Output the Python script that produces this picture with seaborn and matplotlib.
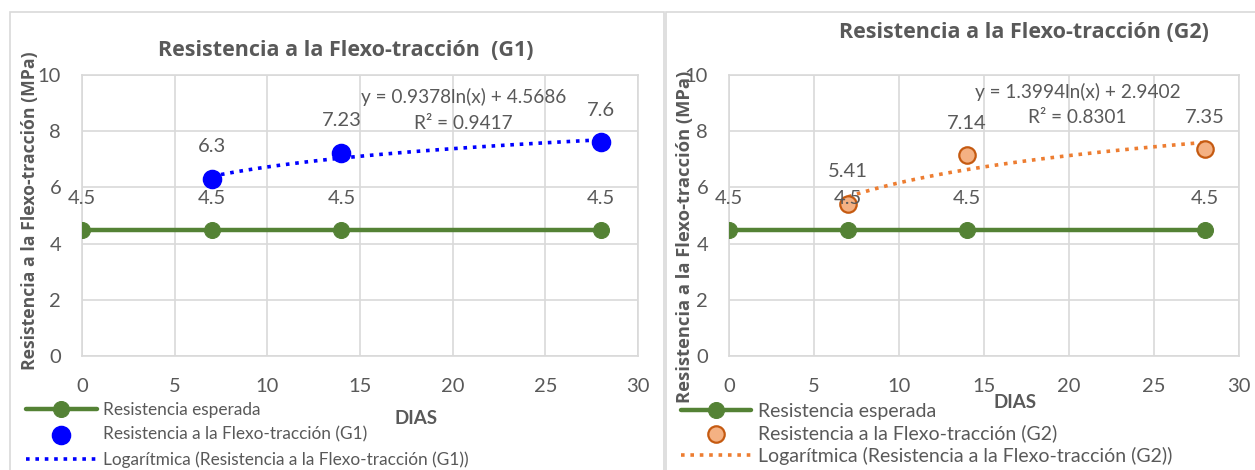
import numpy as np
import pandas as pd
import matplotlib
matplotlib.use("Agg")
import matplotlib.pyplot as plt
import seaborn as sns
from matplotlib.patches import Rectangle

sns.set_style("white")
plt.rcParams['font.family'] = ['Lato', 'DejaVu Sans']

# ---- data ----
dias_esperada = [0, 7, 14, 28]
resistencia_esperada = [4.5, 4.5, 4.5, 4.5]
dias_ensayo = [7, 14, 28]
resistencia_g1 = [6.3, 7.23, 7.6]
resistencia_g2 = [5.41, 7.14, 7.35]
titulos = ["Resistencia a la Flexo-tracción  (G1)", "Resistencia a la Flexo-tracción (G2)"]
ecuaciones = ["y = 0.9378ln(x) + 4.5686", "y = 1.3994ln(x) + 2.9402"]
r2_textos = ["R² = 0.9417", "R² = 0.8301"]
x_ticks = [0, 5, 10, 15, 20, 25, 30]
y_ticks = [0, 2, 4, 6, 8, 10]

TXT = "#595959"
GRID = "#D9D9D9"
GREEN = "#548235"

fig = plt.figure(figsize=(12.55, 4.7), dpi=100)
W, H = 1255, 470

def fx(px):
    return px / W

def fy(py):
    return 1 - py / H

# chart borders
fig.patches.append(Rectangle((fx(10), fy(480)), fx(664 - 10), (480 - 12) / H,
                             transform=fig.transFigure, fill=False, ec=GRID, lw=1.2))
fig.patches.append(Rectangle((fx(666), fy(480)), fx(700), (480 - 12) / H,
                             transform=fig.transFigure, fill=False, ec=GRID, lw=1.2))

configs = [
    dict(left=82, right=638, vals=resistencia_g1, scatter_kws=dict(color="#0000FF", edgecolor="#0000FF", s=170),
         trend_color="#0000FF", label_g="Resistencia a la Flexo-tracción (G1)",
         label_t="Logarítmica (Resistencia a la Flexo-tracción (G1))",
         title_xy=(346, 50), ylabel_xy=(30, 211), ylabel_fs=12.7, xlabel_xy=(416, 419),
         eq_xy=(20.6, 9.22), r2_xy=(20.6, 8.29), leg_xy=(26, 402), leg_fs=12.4,
         leg_hl=4.1, leg_ls=0.5, title=titulos[0], eq=ecuaciones[0], r2=r2_textos[0]),
    dict(left=729, right=1239, vals=resistencia_g2, scatter_kws=dict(color="#F4B183", edgecolor="#C55A11", s=140, linewidth=1.6),
         trend_color="#ED7D31", label_g="Resistencia a la Flexo-tracción (G2)",
         label_t="Logarítmica (Resistencia a la Flexo-tracción (G2))",
         title_xy=(1024, 33), ylabel_xy=(685, 237), ylabel_fs=13.2, xlabel_xy=(1015, 403),
         eq_xy=(20.5, 9.4), r2_xy=(20.5, 8.5), leg_xy=(681, 403), leg_fs=14,
         leg_hl=3.6, leg_ls=0.22, title=titulos[1], eq=ecuaciones[1], r2=r2_textos[1]),
]

top, bottom = 75, 356
for c in configs:
    ax = fig.add_axes([fx(c['left']), fy(bottom), fx(c['right'] - c['left']), (bottom - top) / H])
    df_e = pd.DataFrame({"dias": dias_esperada, "res": resistencia_esperada})
    df_g = pd.DataFrame({"dias": dias_ensayo, "res": c['vals']})
    sns.lineplot(data=df_e, x="dias", y="res", ax=ax, color=GREEN, lw=3.2, marker="o",
                 markersize=11.5, markeredgecolor=GREEN, label="Resistencia esperada", zorder=4)
    sns.regplot(data=df_g, x="dias", y="res", ax=ax, logx=True, ci=None, scatter=False,
                truncate=True, label=c['label_t'],
                line_kws=dict(color=c['trend_color'], lw=2.6, ls=(0, (1, 1.6)), zorder=3))
    sns.scatterplot(data=df_g, x="dias", y="res", ax=ax, label=c['label_g'], zorder=5,
                    **c['scatter_kws'])
    # data labels
    for xv, yv in zip(dias_esperada, resistencia_esperada):
        ax.annotate(f"{yv:g}", (xv, yv), xytext=(0, 31), textcoords="offset pixels",
                    ha="center", va="center", fontsize=14.5, color=TXT, zorder=6)
    for xv, yv in zip(dias_ensayo, c['vals']):
        ax.annotate(f"{yv:g}", (xv, yv), xytext=(0, 32), textcoords="offset pixels",
                    ha="center", va="center", fontsize=14.5, color=TXT, zorder=6)
    ax.text(c['eq_xy'][0], c['eq_xy'][1], c['eq'], ha="center", va="center", fontsize=13.7, color=TXT)
    ax.text(c['r2_xy'][0], c['r2_xy'][1], c['r2'], ha="center", va="center", fontsize=13.7, color=TXT)

    ax.set_xlim(0, 30)
    ax.set_ylim(0, 10)
    ax.set_xticks(x_ticks)
    ax.set_yticks(y_ticks)
    ax.grid(True, color=GRID, lw=1.2)
    for s in ax.spines.values():
        s.set_color(GRID)
        s.set_linewidth(1.2)
    ax.tick_params(axis="both", length=0, labelsize=14.5, labelcolor=TXT)
    ax.tick_params(axis="x", pad=16)
    ax.tick_params(axis="y", pad=15)
    ax.set_xlabel("")
    ax.set_ylabel("")

    handles, labels = ax.get_legend_handles_labels()
    order = ["Resistencia esperada", c['label_g'], c['label_t']]
    hmap = dict(zip(labels, handles))
    ax.legend([hmap[o] for o in order], order, loc="upper left",
              bbox_to_anchor=(fx(c['leg_xy'][0]), fy(c['leg_xy'][1])), bbox_transform=fig.transFigure,
              frameon=False, fontsize=c['leg_fs'], handlelength=c['leg_hl'], handletextpad=0.35,
              labelspacing=c['leg_ls'], borderpad=0, borderaxespad=0, labelcolor=TXT,
              prop=dict(family=["Lato", "DejaVu Sans"], size=c['leg_fs']))

    fig.text(fx(c['title_xy'][0]), fy(c['title_xy'][1]), c['title'], ha="center", va="center",
             fontsize=15.5, fontweight="bold", color=TXT, family=["Open Sans", "DejaVu Sans"])
    fig.text(fx(c['ylabel_xy'][0]), fy(c['ylabel_xy'][1]), "Resistencia a la Flexo-tracción (MPa)",
             ha="center", va="center", rotation=90, fontsize=c['ylabel_fs'], fontweight="bold", color=TXT,
             family=["Open Sans", "DejaVu Sans"])
    fig.text(fx(c['xlabel_xy'][0]), fy(c['xlabel_xy'][1]), "DIAS", ha="center", va="center",
             fontsize=13.5, fontweight="bold", color=TXT)

fig.savefig("out.png", dpi=100)
